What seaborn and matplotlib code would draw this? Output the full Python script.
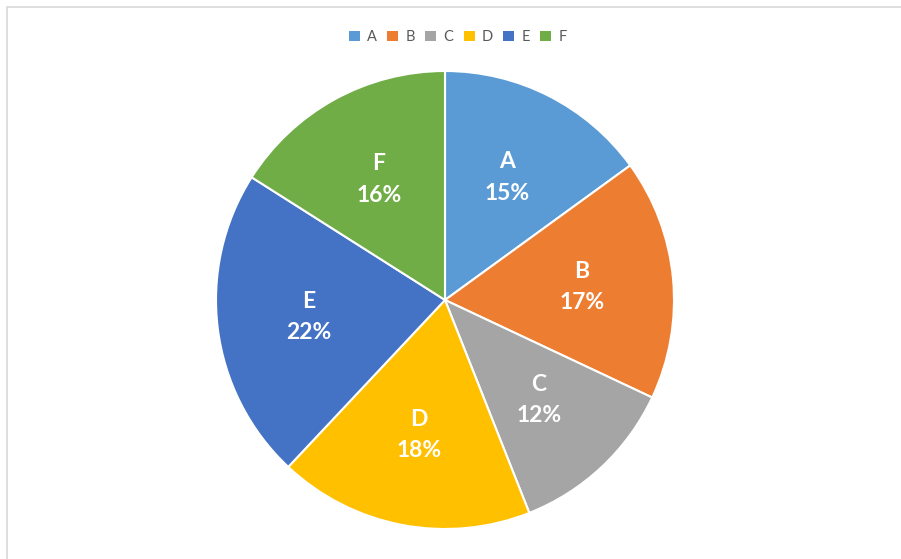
import matplotlib
matplotlib.use("Agg")
import matplotlib.pyplot as plt
import seaborn as sns
import numpy as np
from matplotlib.lines import Line2D
from matplotlib.patches import Patch

categories = ["A", "B", "C", "D", "E", "F"]
values = [15, 17, 12, 18, 22, 16]
colors = ["#5B9BD5", "#ED7D31", "#A5A5A5", "#FFC000", "#4472C4", "#70AD47"]

sns.set_theme(style="white")
plt.rcParams['font.family'] = ['Lato', 'DejaVu Sans']

W, H = 901, 559
fig = plt.figure(figsize=(W / 100, H / 100), dpi=100)
fig.patch.set_facecolor("white")

cx, cy, r = 445, 300, 229
ax = fig.add_axes([(cx - r) / W, (H - cy - r) / H, 2 * r / W, 2 * r / H])
palette = sns.color_palette(colors)
wedges, _ = ax.pie(values, colors=palette, startangle=90, counterclock=False,
                   wedgeprops=dict(edgecolor="white", linewidth=1.5), radius=1)
ax.set_xlim(-1, 1)
ax.set_ylim(-1, 1)
ax.set_aspect("equal")
ax.axis("off")

total = sum(values)
for w, cat, v in zip(wedges, categories, values):
    ang = np.deg2rad((w.theta1 + w.theta2) / 2)
    d = 0.6
    x, y = d * np.cos(ang), d * np.sin(ang)
    ax.text(x, y, f"{cat}\n{v / total * 100:.0f}%", ha="center", va="center",
            color="white", fontsize=16.5, fontweight="bold", linespacing=1.6)

handles = [Patch(facecolor=c, edgecolor="none") for c in palette]
fig.legend(handles, categories, loc="center", bbox_to_anchor=(458 / W, 1 - 37 / H),
           ncol=6, frameon=False, fontsize=10.5, handlelength=0.75, handleheight=0.75,
           handletextpad=0.5, columnspacing=0.7, labelcolor="#595959")

fig.add_artist(Line2D([6.5 / W, 1], [1 - 6.5 / H, 1 - 6.5 / H], transform=fig.transFigure,
                      color="#D9D9D9", linewidth=1.2))
fig.add_artist(Line2D([6.5 / W, 6.5 / W], [0, 1 - 6.5 / H], transform=fig.transFigure,
                      color="#D9D9D9", linewidth=1.2))

fig.savefig("out.png", dpi=100, facecolor="white")
